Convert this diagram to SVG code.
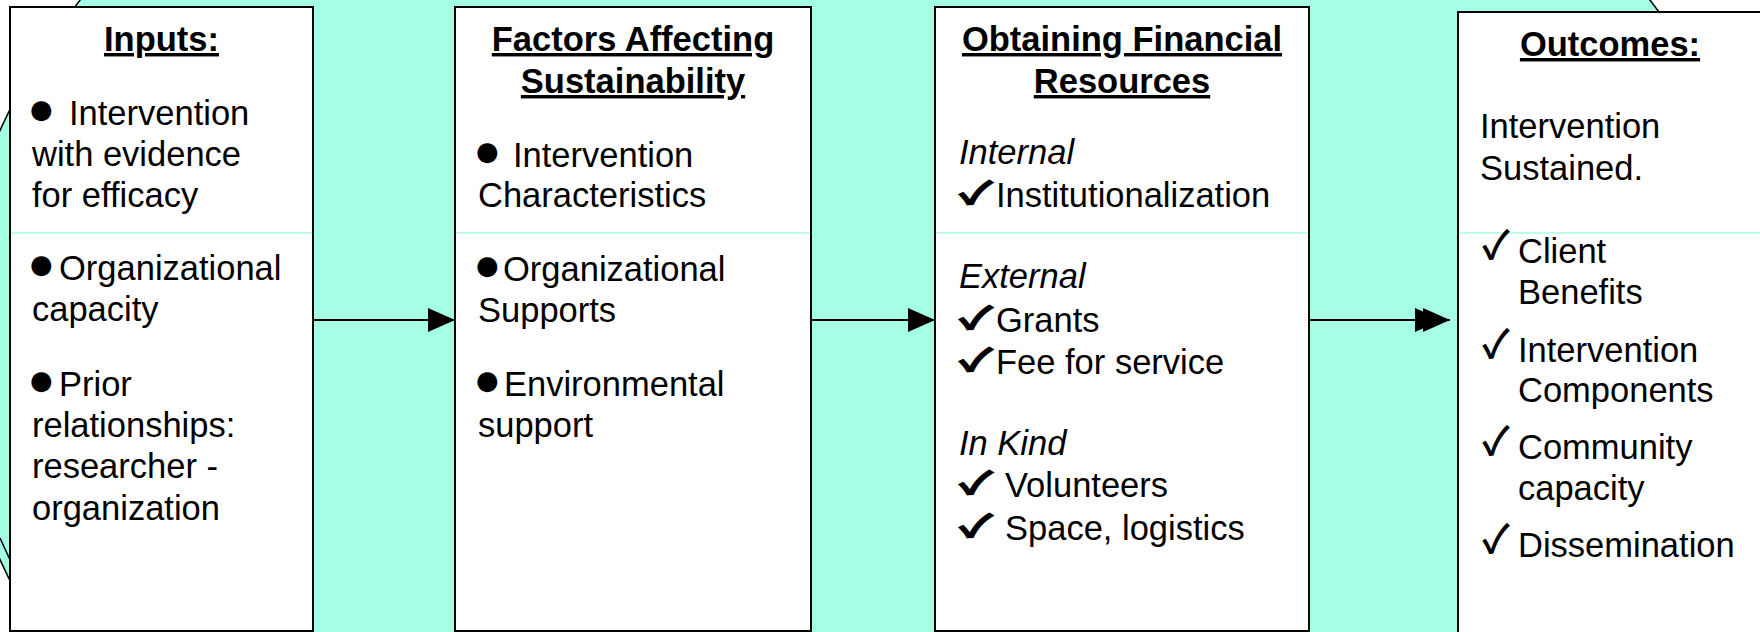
<svg xmlns="http://www.w3.org/2000/svg" width="1760" height="632" viewBox="0 0 1760 632">
<defs>
<style>
.box{fill:#ffffff;stroke:#000000;stroke-width:2}
.sep{stroke:#A4FFE4;stroke-width:1.5}
text{font-family:"Liberation Sans",Arial,sans-serif;font-size:34.5px;fill:#000000}
.h{font-weight:bold;text-anchor:middle;text-decoration:underline}
.i{font-style:italic}
.bul{font-family:"DejaVu Sans",sans-serif;font-size:26px}
.ck{font-family:"Noto Sans CJK JP","DejaVu Sans",sans-serif;font-size:30px;stroke:#000000;stroke-width:2}
.ck2{font-family:"Noto Sans CJK JP","DejaVu Sans",sans-serif;font-size:38px;stroke:#000000;stroke-width:1}
.conn{stroke:#000000;stroke-width:2;fill:none}
</style>
<marker id="ah" markerWidth="28" markerHeight="26" refX="27" refY="12" orient="auto" markerUnits="userSpaceOnUse">
<polygon points="0,0 27,12 0,24" fill="#000000"/>
</marker>
</defs>
<rect x="0" y="0" width="1760" height="632" fill="#ffffff"/>
<ellipse cx="865" cy="345" rx="912" ry="677" fill="#A4FFE4" stroke="#000000" stroke-width="1.5"/>
<line x1="0" y1="538" x2="11" y2="562" stroke="#000000" stroke-width="1.5"/>

<g id="connectors">
<path class="conn" d="M313,320 L455,320" marker-end="url(#ah)"/>
<path class="conn" d="M811,320 L935,320" marker-end="url(#ah)"/>
<path class="conn" d="M1309,320 L1442,320 L1450,320" marker-mid="url(#ah)" marker-end="url(#ah)"/>
</g>

<g id="inputs">
<rect class="box" x="10" y="7" width="303" height="624"/>
<line class="sep" x1="11" y1="233" x2="312" y2="233"/>
<text class="h" x="161.5" y="51">Inputs:</text>
<text x="30" y="118"><tspan class="bul">●</tspan><tspan x="69" y="125">Intervention</tspan></text>
<text x="32" y="166">with evidence</text>
<text x="32" y="207">for efficacy</text>
<text x="30" y="273"><tspan class="bul">●</tspan><tspan x="59" y="280">Organizational</tspan></text>
<text x="32" y="321">capacity</text>
<text x="30" y="389"><tspan class="bul">●</tspan><tspan x="59" y="396">Prior</tspan></text>
<text x="32" y="437">relationships:</text>
<text x="32" y="478">researcher -</text>
<text x="32" y="520">organization</text>
</g>

<g id="factors">
<rect class="box" x="455" y="7" width="356" height="624"/>
<line class="sep" x1="456" y1="233" x2="810" y2="233"/>
<text class="h" x="633" y="51">Factors Affecting</text>
<text class="h" x="633" y="93">Sustainability</text>
<text x="476" y="160"><tspan class="bul">●</tspan><tspan x="513" y="167">Intervention</tspan></text>
<text x="478" y="207">Characteristics</text>
<text x="476" y="274"><tspan class="bul">●</tspan><tspan x="503" y="281">Organizational</tspan></text>
<text x="478" y="322">Supports</text>
<text x="476" y="389"><tspan class="bul">●</tspan><tspan x="504" y="396">Environmental</tspan></text>
<text x="478" y="437">support</text>
</g>

<g id="financial">
<rect class="box" x="935" y="7" width="374" height="624"/>
<line class="sep" x1="936" y1="233" x2="1308" y2="233"/>
<text class="h" x="1122" y="51">Obtaining Financial</text>
<text class="h" x="1122" y="93">Resources</text>
<text class="i" x="959" y="164">Internal</text>
<text x="960" y="204"><tspan class="ck" textLength="32" lengthAdjust="spacingAndGlyphs">✓</tspan><tspan x="996" y="207">Institutionalization</tspan></text>
<text class="i" x="959" y="288">External</text>
<text x="960" y="329"><tspan class="ck" textLength="32" lengthAdjust="spacingAndGlyphs">✓</tspan><tspan x="996" y="332">Grants</tspan></text>
<text x="960" y="371"><tspan class="ck" textLength="32" lengthAdjust="spacingAndGlyphs">✓</tspan><tspan x="996" y="374">Fee for service</tspan></text>
<text class="i" x="959" y="455">In Kind</text>
<text x="960" y="494"><tspan class="ck" textLength="32" lengthAdjust="spacingAndGlyphs">✓</tspan><tspan x="1005" y="497">Volunteers</tspan></text>
<text x="960" y="537"><tspan class="ck" textLength="32" lengthAdjust="spacingAndGlyphs">✓</tspan><tspan x="1005" y="540">Space, logistics</tspan></text>
</g>

<g id="outcomes">
<rect class="box" x="1458" y="12" width="320" height="640"/>
<line class="sep" x1="1459" y1="233" x2="1760" y2="233"/>
<text class="h" x="1610" y="56">Outcomes:</text>
<text x="1480" y="138">Intervention</text>
<text x="1480" y="180">Sustained.</text>
<text x="1483" y="259"><tspan class="ck2">✓</tspan><tspan x="1518" y="263">Client</tspan></text>
<text x="1518" y="304">Benefits</text>
<text x="1483" y="358"><tspan class="ck2">✓</tspan><tspan x="1518" y="362">Intervention</tspan></text>
<text x="1518" y="402">Components</text>
<text x="1483" y="455"><tspan class="ck2">✓</tspan><tspan x="1518" y="459">Community</tspan></text>
<text x="1518" y="500">capacity</text>
<text x="1483" y="553"><tspan class="ck2">✓</tspan><tspan x="1518" y="557">Dissemination</tspan></text>
</g>
</svg>
